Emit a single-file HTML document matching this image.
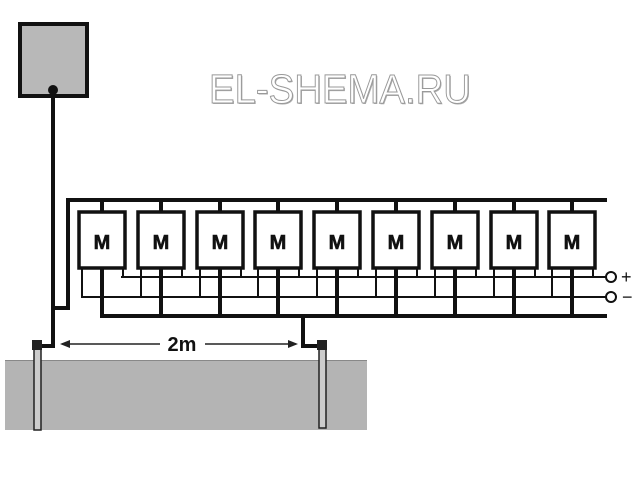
<!DOCTYPE html>
<html><head><meta charset="utf-8"><style>
html,body{margin:0;padding:0;background:#fff}
svg{display:block}
</style></head><body>
<svg width="640" height="480" viewBox="0 0 640 480" xmlns="http://www.w3.org/2000/svg">
<rect width="640" height="480" fill="#fff"/>
<rect x="5" y="360" width="362" height="70" fill="#b4b4b4"/>
<line x1="5" y1="360.5" x2="367" y2="360.5" stroke="#888" stroke-width="1"/>
<rect x="20" y="24" width="67" height="72" fill="#b8b8b8" stroke="#111" stroke-width="4"/>
<circle cx="53" cy="90" r="5" fill="#111"/>
<text x="210" y="104" font-family="Liberation Sans, sans-serif" font-size="41" fill="#aaa" textLength="262" lengthAdjust="spacingAndGlyphs">EL-SHEMA.RU</text>
<text x="209" y="103" font-family="Liberation Sans, sans-serif" font-size="41" fill="#fff" stroke="#999" stroke-width="1" textLength="262" lengthAdjust="spacingAndGlyphs">EL-SHEMA.RU</text>
<g stroke="#111" fill="none" stroke-linecap="square">
<polyline points="53,92 53,346 38,346" stroke-width="4"/>
<polyline points="57,308 68,308 68,200 605,200" stroke-width="4"/>
<polyline points="102,316 605,316" stroke-width="4"/>
<polyline points="303,316 303,346 322,346" stroke-width="4"/>
<line x1="122" y1="277" x2="605" y2="277" stroke-width="2"/>
<line x1="82" y1="297" x2="605" y2="297" stroke-width="2"/>
</g>
<defs>
<g id="m">
<line x1="23" y1="200" x2="23" y2="212" stroke="#111" stroke-width="4"/>
<line x1="23" y1="266" x2="23" y2="316" stroke="#111" stroke-width="4"/>
<line x1="44" y1="266" x2="44" y2="277" stroke="#111" stroke-width="2"/>
<line x1="3" y1="266" x2="3" y2="297" stroke="#111" stroke-width="2"/>
<rect x="0" y="212" width="46" height="56" fill="#fff" stroke="#111" stroke-width="3.5"/>
</g>
</defs>
<use href="#m" x="79"/><use href="#m" x="138"/><use href="#m" x="197"/>
<use href="#m" x="255"/><use href="#m" x="314"/><use href="#m" x="373"/>
<use href="#m" x="432"/><use href="#m" x="491"/><use href="#m" x="549"/>
<g font-family="Liberation Sans, sans-serif" font-weight="bold" font-size="20" text-anchor="middle" fill="#111" stroke="#111" stroke-width="0.6">
<text x="102" y="249">M</text><text x="161" y="249">M</text><text x="220" y="249">M</text>
<text x="278" y="249">M</text><text x="337" y="249">M</text><text x="396" y="249">M</text>
<text x="455" y="249">M</text><text x="514" y="249">M</text><text x="572" y="249">M</text>
</g>
<rect x="34" y="342" width="7" height="88" fill="#ccc" stroke="#222" stroke-width="1.5"/>
<rect x="319" y="342" width="7" height="86" fill="#ccc" stroke="#222" stroke-width="1.5"/>
<rect x="32" y="340" width="10" height="10" fill="#222"/>
<rect x="317" y="340" width="10" height="10" fill="#222"/>
<g stroke="#222" stroke-width="1.5">
<line x1="62" y1="344" x2="160" y2="344"/>
<line x1="205" y1="344" x2="296" y2="344"/>
</g>
<polygon points="60,344 70,340 70,348" fill="#222"/>
<polygon points="298,344 288,340 288,348" fill="#222"/>
<text x="182" y="351" font-family="Liberation Sans, sans-serif" font-weight="bold" font-size="20" text-anchor="middle" fill="#111">2m</text>
<circle cx="611" cy="277" r="5" fill="#fff" stroke="#111" stroke-width="2"/>
<circle cx="611" cy="297" r="5" fill="#fff" stroke="#111" stroke-width="2"/>
<text x="621" y="283" font-family="Liberation Sans, sans-serif" font-size="18" fill="#111">+</text>
<text x="622" y="303" font-family="Liberation Sans, sans-serif" font-size="18" fill="#111">−</text>
</svg>
</body></html>
